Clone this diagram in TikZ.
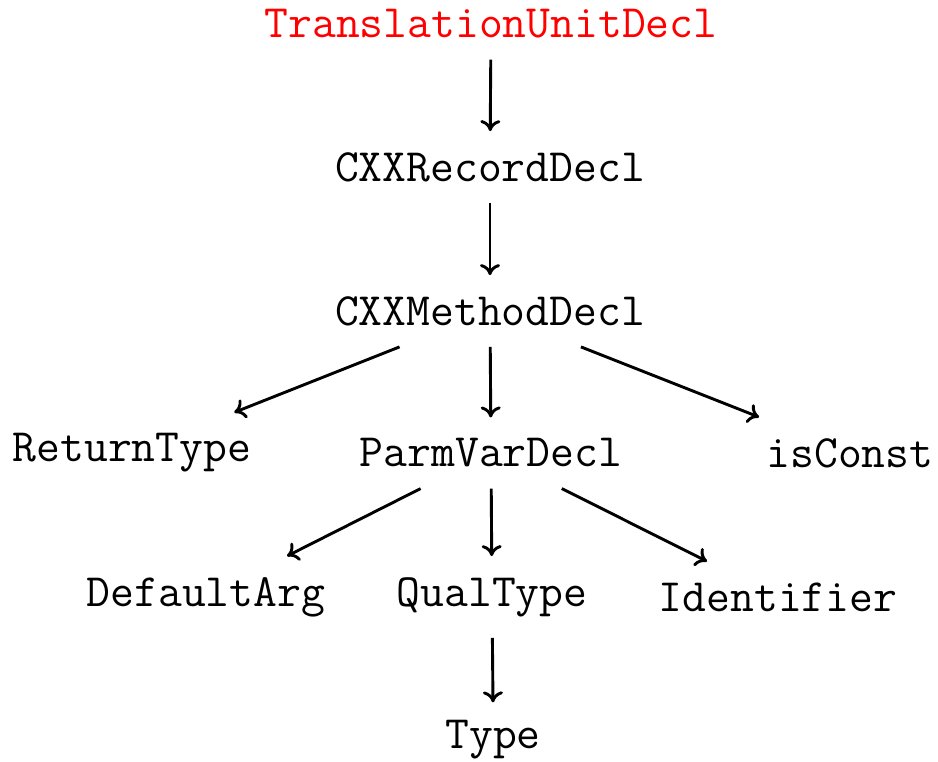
\documentclass[tikz,border=0pt]{standalone}
\usetikzlibrary{arrows.meta}
\begin{document}
\begin{tikzpicture}[x=1pt,y=-1pt,
  ast/.style={font=\ttfamily\fontsize{46.3}{55}\selectfont, inner sep=21pt},
  edge/.style={-{To[length=11pt,width=20pt]}, line width=2.9pt}]
\useasboundingbox (0,0) rectangle (938,762);
% tree nodes
\node[ast, text=red] (tu)    at (491,24)  {TranslationUnitDecl};
\node[ast] (rec)   at (490,167) {CXXRecordDecl};
\node[ast] (meth)  at (490,311) {CXXMethodDecl};
\node[ast] (ret)   at (132,453) {ReturnType};
\node[ast] (parm)  at (491,453) {ParmVarDecl};
\node[ast] (const) at (850,453) {isConst};
\node[ast] (def)   at (206,597) {DefaultArg};
\node[ast] (qual)  at (492,597) {QualType};
\node[ast] (ident) at (778,597) {Identifier};
\node[ast] (type)  at (493,740) {Type};
% parent -> child edges
\draw[edge] (tu) -- (rec);
\draw[edge] (rec) -- (meth);
\draw[edge] (meth) -- (ret);
\draw[edge] (meth) -- (parm);
\draw[edge] (meth) -- (const);
\draw[edge] (parm) -- (def);
\draw[edge] (parm) -- (qual);
\draw[edge] (parm) -- (ident);
\draw[edge] (qual) -- ([yshift=-3pt]type.north) ;
\end{tikzpicture}
\end{document}
